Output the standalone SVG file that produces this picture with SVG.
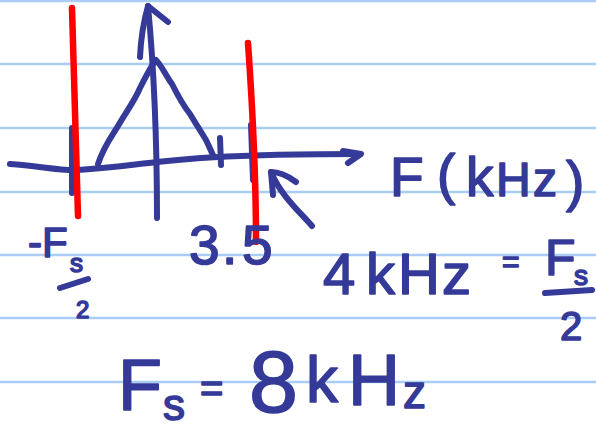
<svg xmlns="http://www.w3.org/2000/svg" width="596" height="432" viewBox="0 0 596 432">
<style>
.rule{stroke:#a9cdf4;stroke-width:2.5}
.pen{fill:none;stroke:#353a98;stroke-width:6;stroke-linecap:round;stroke-linejoin:round}
.red{fill:none;stroke:#ff0000;stroke-width:6.5;stroke-linecap:round;stroke-linejoin:round}
text{font-family:"Liberation Sans",Arial,sans-serif;fill:#353a98;stroke:#353a98;stroke-width:1.6;stroke-linejoin:round}
</style>
<rect width="596" height="432" fill="#ffffff"/>
<g id="paper">
<line class="rule" x1="0" y1="1" x2="596" y2="1"/>
<line class="rule" x1="0" y1="64" x2="596" y2="64"/>
<line class="rule" x1="0" y1="128" x2="596" y2="128"/>
<line class="rule" x1="0" y1="192" x2="596" y2="192"/>
<line class="rule" x1="0" y1="255" x2="596" y2="255"/>
<line class="rule" x1="0" y1="318" x2="596" y2="318"/>
<line class="rule" x1="0" y1="382" x2="596" y2="382"/>
</g>
<g id="axes">
<path class="pen" d="M10,164 C40,166 60,171 78,170 C110,168 130,165 157,162 C190,158 230,156 270,155 C300,154 330,154 360,154"/>
<path class="pen" d="M343,151 L361,154 L348,163"/>
<path class="pen" d="M157,218 C157,150 155,80 148,6"/>
<path class="pen" d="M140,57 C141,35 144,20 148,6 L168,22"/>
</g>
<g id="spectrum">
<path class="pen" d="M98,164 C104,146 112,136 118,126 C126,112 134,102 140,88 C146,76 151,66 156,60 C162,66 166,76 172,84 C178,96 182,104 190,114 C196,124 200,130 206,140 C209,146 211,151 213,155"/>
<path class="pen" d="M220,138 L221,165"/>
<path class="pen" d="M72,128 L72,193"/>
<path class="pen" d="M251,125 L253,180"/>
</g>
<g id="nyquist-lines">
<path class="red" d="M72,8 C74,80 76,150 78,216"/>
<path class="red" d="M248,43 C252,100 256,170 256,242"/>
</g>
<g id="pointer">
<path class="pen" d="M312,226 C300,212 281,196 271,172"/>
<path class="pen" d="M296,182 C288,176 278,172 271,172 L273,195"/>
</g>
<g id="labels">
<text font-size="55"><tspan x="390" y="196">F </tspan><tspan x="437" y="193">(</tspan><tspan x="466" y="196">k</tspan><tspan x="496" y="196" font-size="48">H</tspan><tspan x="533" y="196" font-size="48">z</tspan><tspan x="566" y="200">)</tspan></text>
<text font-size="42"><tspan x="28" y="257">-F</tspan><tspan x="70" y="272" font-size="26">s</tspan><tspan x="76" y="318" font-size="24">2</tspan></text>
<path class="pen" d="M60,288 L88,279"/>
<text font-size="55"><tspan x="189" y="264">3</tspan><tspan x="222" y="264">.</tspan><tspan x="242" y="264">5</tspan></text>
<text font-size="58"><tspan x="323" y="294">4</tspan><tspan x="366" y="294">k</tspan><tspan x="398" y="294">H</tspan><tspan x="442" y="294">z </tspan><tspan x="502" y="272" font-size="30">= </tspan><tspan x="545" y="275" font-size="50">F</tspan><tspan x="574" y="285" font-size="28">s</tspan><tspan x="560" y="340" font-size="40">2</tspan></text>
<path class="pen" d="M545,293 L592,290"/>
<text font-size="72"><tspan x="118" y="410">F</tspan><tspan x="163" y="420" font-size="44">s </tspan><tspan x="200" y="402" font-size="40">= </tspan><tspan x="249" y="412" font-size="88">8</tspan><tspan x="306" y="402" font-size="64">k</tspan><tspan x="348" y="405" font-size="72">H</tspan><tspan x="403" y="408" font-size="46">z</tspan></text>
</g>
</svg>
